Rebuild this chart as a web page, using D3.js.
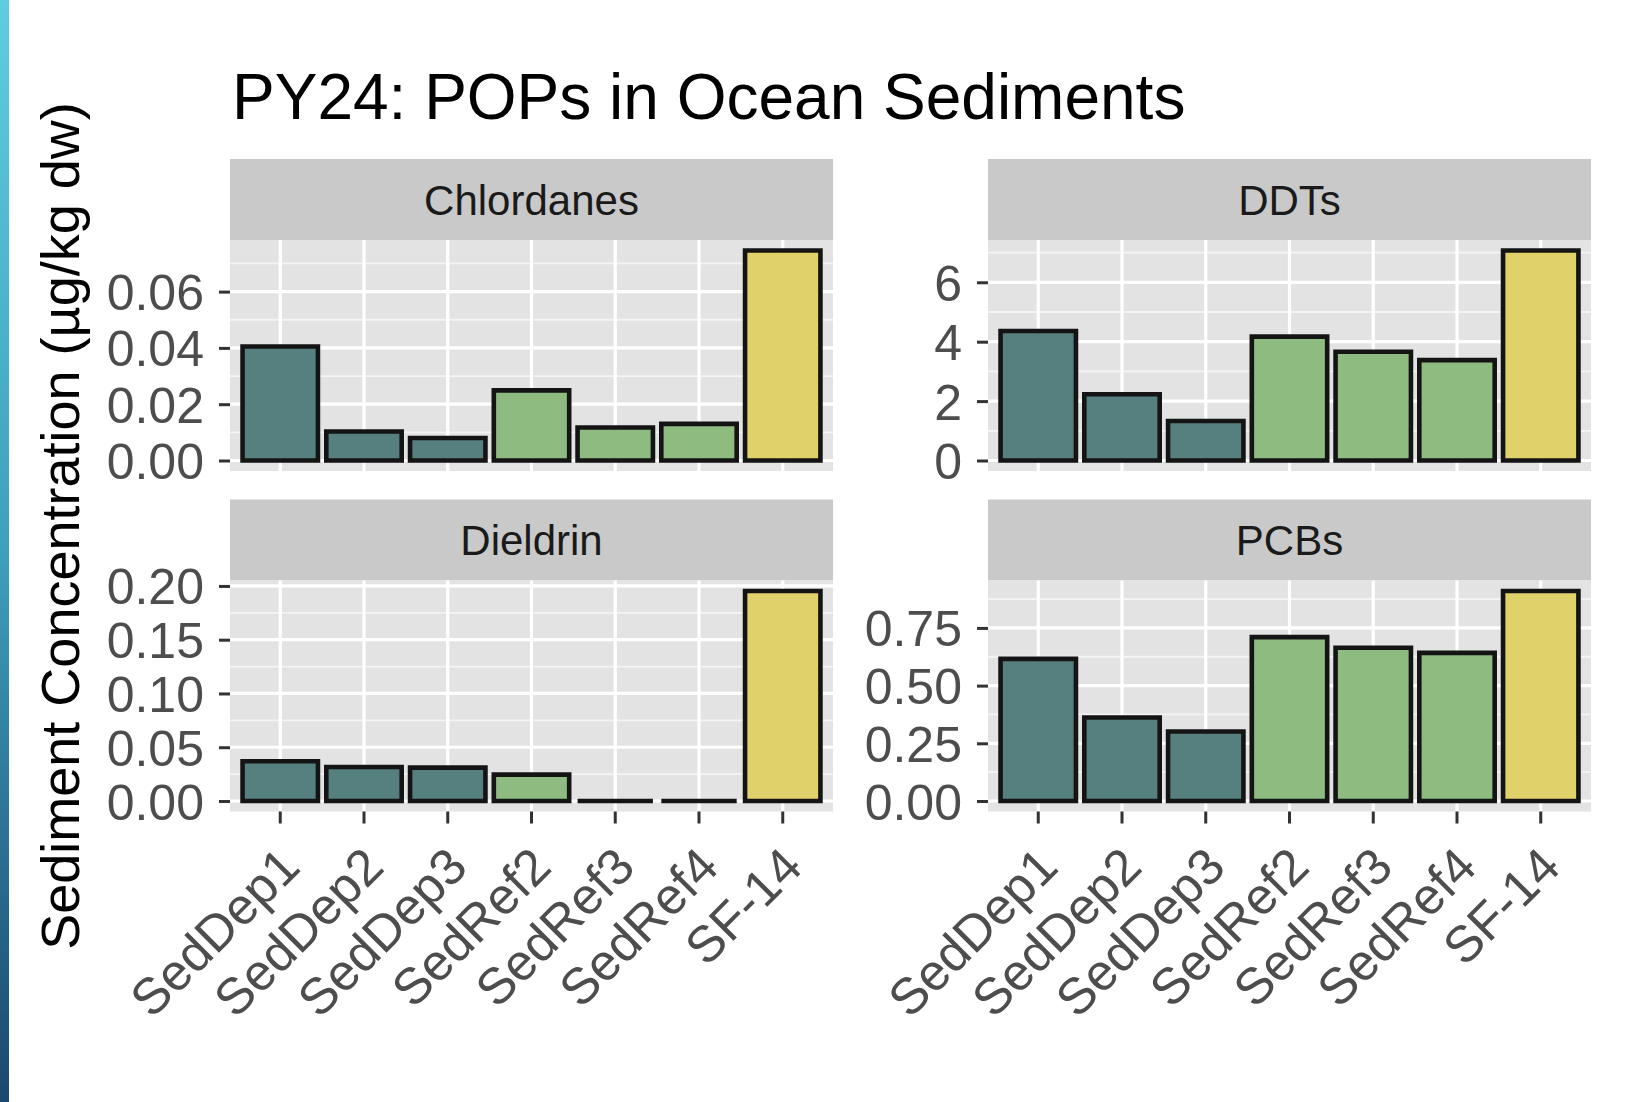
<!DOCTYPE html>
<html>
<head>
<meta charset="utf-8">
<script src="https://cdn.jsdelivr.net/npm/d3@7"></script>
<style>
  body { margin: 0; background: #fff; }
  text { font-family: "Liberation Sans", Arial, sans-serif; }
</style>
</head>
<body>
<svg id="chart"></svg>
<script>
// data
const sites = ["SedDep1", "SedDep2", "SedDep3", "SedRef2", "SedRef3", "SedRef4", "SF-14"];
const siteGroup = ["Dep", "Dep", "Dep", "Ref", "Ref", "Ref", "SF"];
const panelNames = ["Chlordanes", "DDTs", "Dieldrin", "PCBs"];
const chlordanes = [0.0405, 0.0103, 0.0080, 0.0249, 0.0117, 0.0130, 0.0746];
const ddts = [4.36, 2.23, 1.33, 4.17, 3.66, 3.38, 7.07];
const dieldrin = [0.0369, 0.0316, 0.0310, 0.0245, 0, 0, 0.1953];
const pcbs = [0.616, 0.362, 0.301, 0.710, 0.664, 0.642, 0.910];
const chlordaneTicks = [0, 0.02, 0.04, 0.06];
const ddtTicks = [0, 2, 4, 6];
const dieldrinTicks = [0, 0.05, 0.10, 0.15, 0.20];
const pcbTicks = [0, 0.25, 0.50, 0.75];

const title = "PY24: POPs in Ocean Sediments";
const yTitle = "Sediment Concentration (µg/kg dw)";

// constants
const width = 1639;
const height = 1102;
const colX = [230, 988];
const panelW = 603;
const rowStripTop = [159, 499.5];
const stripH = 81;
const panelH = 231;

const svg = d3.select('svg#chart').attr('width', width).attr('height', height)

// blue edge on the left
const grad = svg.append('defs').append('linearGradient').attr('id', 'edge')
  .attr('x1', 0).attr('y1', 0).attr('x2', 0).attr('y2', 1)
grad.append('stop').attr('offset', '0%').attr('stop-color', '#5fcde0')
grad.append('stop').attr('offset', '50%').attr('stop-color', '#3e9fbe')
grad.append('stop').attr('offset', '100%').attr('stop-color', '#1b4770')
svg.append('rect').attr('x', 0).attr('y', 0).attr('width', 9).attr('height', height).attr('fill', 'url(#edge)')

const color = d3.scaleOrdinal().domain(["Dep", "Ref", "SF"]).range(["#55807f", "#8dbb80", "#e1d16b"])

const panels = [
  { name: panelNames[0], values: chlordanes, ticks: chlordaneTicks, fmt: d3.format('.2f'), col: 0, row: 0 },
  { name: panelNames[1], values: ddts, ticks: ddtTicks, fmt: d3.format('d'), col: 1, row: 0 },
  { name: panelNames[2], values: dieldrin, ticks: dieldrinTicks, fmt: d3.format('.2f'), col: 0, row: 1 },
  { name: panelNames[3], values: pcbs, ticks: pcbTicks, fmt: d3.format('.2f'), col: 1, row: 1 },
];

panels.forEach(p => {
  const x0 = colX[p.col];
  const stripTop = rowStripTop[p.row];
  const top = stripTop + stripH;
  const bottom = top + panelH;
  const g = svg.append('g')

  // strip
  g.append('rect').attr('x', x0).attr('y', stripTop).attr('width', panelW).attr('height', stripH).attr('fill', '#c9c9c9')
  g.append('text').attr('x', x0 + panelW / 2).attr('y', stripTop + stripH / 2).attr('dy', '0.36em')
    .attr('text-anchor', 'middle').attr('font-size', 42).attr('fill', '#1a1a1a').text(p.name)

  // scales (ggplot style expansion)
  const xScale = d3.scalePoint().domain(sites).range([x0, x0 + panelW]).padding(0.6)
  const step = xScale.step();
  const maxV = d3.max(p.values);
  const yScale = d3.scaleLinear().domain([-0.05 * maxV, 1.05 * maxV]).range([bottom, top])

  g.append('rect').attr('x', x0).attr('y', top).attr('width', panelW).attr('height', panelH).attr('fill', '#e3e3e3')

  // minor grid
  const minor = [];
  for (let i = 0; i < p.ticks.length; i++) {
    const d = p.ticks[1] - p.ticks[0];
    const m = p.ticks[i] + d / 2;
    if (m < 1.05 * maxV) minor.push(m);
  }
  g.selectAll('line.minor').data(minor).enter().append('line')
    .attr('x1', x0).attr('x2', x0 + panelW).attr('y1', d => yScale(d)).attr('y2', d => yScale(d))
    .attr('stroke', '#f4f4f4').attr('stroke-width', 1.8)
  // major grid
  g.selectAll('line.hmajor').data(p.ticks).enter().append('line')
    .attr('x1', x0).attr('x2', x0 + panelW).attr('y1', d => yScale(d)).attr('y2', d => yScale(d))
    .attr('stroke', '#fff').attr('stroke-width', 3.2)
  g.selectAll('line.vmajor').data(sites).enter().append('line')
    .attr('x1', d => xScale(d)).attr('x2', d => xScale(d)).attr('y1', top).attr('y2', bottom)
    .attr('stroke', '#fff').attr('stroke-width', 3.2)

  // bars
  const bw = step * 0.9;
  g.selectAll('path.bar').data(p.values).enter().append('path')
    .attr('d', (d, i) => {
      const x = xScale(sites[i]) - bw / 2;
      const y = yScale(d);
      const h = yScale(0) - y;
      return 'M' + x + ',' + y + 'h' + bw + 'v' + h + 'h' + (-bw) + 'Z';
    })
    .attr('fill', (d, i) => color(siteGroup[i]))
    .attr('stroke', '#141414').attr('stroke-width', 4.6).attr('stroke-linejoin', 'miter')

  // y axis
  const yAxis = d3.axisLeft(yScale).tickValues(p.ticks).tickFormat(p.fmt).tickSize(11).tickPadding(15)
  const ya = g.append('g').attr('transform', 'translate(' + x0 + ',0)').call(yAxis)
  ya.select('.domain').remove()
  ya.selectAll('line').attr('stroke', '#333').attr('stroke-width', 3)
  ya.selectAll('text').attr('font-size', 50).attr('fill', '#4d4d4d').attr('dy', '0.36em')
    .style('font-family', '"Liberation Sans", Arial, sans-serif')

  // x axis only on bottom row
  if (p.row === 1) {
    const xa = g.append('g').attr('transform', 'translate(0,' + bottom + ')')
    xa.selectAll('line').data(sites).enter().append('line')
      .attr('x1', d => xScale(d)).attr('x2', d => xScale(d)).attr('y1', 0).attr('y2', 12)
      .attr('stroke', '#333').attr('stroke-width', 3)
    xa.selectAll('text').data(sites).enter().append('text')
      .attr('transform', d => 'translate(' + (xScale(d) - 4) + ',32) rotate(-45)')
      .attr('text-anchor', 'end').attr('dy', '0.72em')
      .attr('font-size', 51).attr('fill', '#4d4d4d').text(d => d)
  }
})

// titles
svg.append('text').attr('x', 232).attr('y', 119).attr('font-size', 64).attr('fill', '#000').text(title)
svg.append('text').attr('transform', 'translate(79,526) rotate(-90)').attr('text-anchor', 'middle')
  .attr('font-size', 54).attr('fill', '#000').text(yTitle)
</script>
</body>
</html>
